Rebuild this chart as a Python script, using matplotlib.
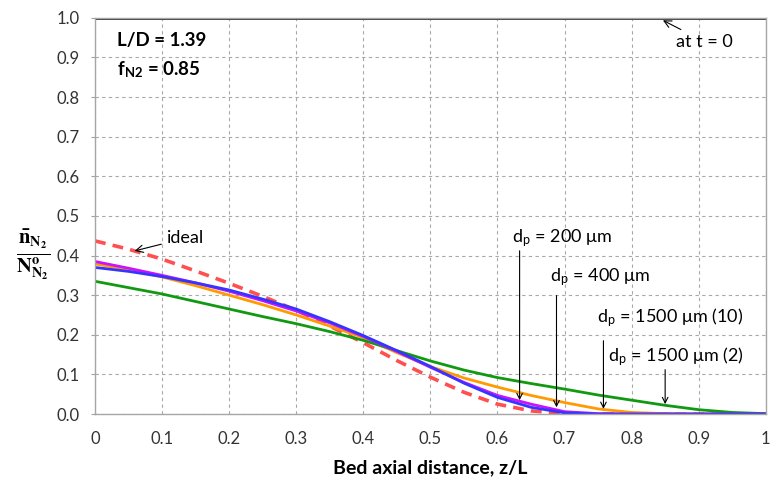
import matplotlib
matplotlib.use("Agg")
import matplotlib.pyplot as plt
import numpy as np

plt.rcParams['font.family'] = ['Lato', 'DejaVu Sans']
plt.rcParams['mathtext.fontset'] = 'stix'

# bed axial distance z/L
z = [0, 0.05, 0.1, 0.15, 0.2, 0.25, 0.3, 0.35, 0.4, 0.45, 0.5,
     0.55, 0.6, 0.65, 0.7, 0.75, 0.8, 0.85, 0.9, 0.95, 1.0]

ideal = [0.437, 0.416, 0.391, 0.361, 0.33, 0.297, 0.262, 0.222, 0.18, 0.135, 0.093,
         0.055, 0.025, 0.008, 0.001, 0, 0, 0, 0, 0, 0]
dp200 = [0.37, 0.36, 0.347, 0.331, 0.313, 0.29, 0.265, 0.233, 0.198, 0.16, 0.12,
         0.078, 0.042, 0.017, 0.003, 0, 0, 0, 0, 0, 0]
dp400 = [0.385, 0.368, 0.35, 0.331, 0.31, 0.286, 0.26, 0.23, 0.196, 0.158, 0.118,
         0.08, 0.047, 0.025, 0.006, 0.001, 0, 0, 0, 0, 0]
dp1500_10 = [0.379, 0.364, 0.346, 0.324, 0.3, 0.276, 0.25, 0.222, 0.193, 0.155, 0.12,
             0.091, 0.068, 0.047, 0.029, 0.013, 0.004, 0.001, 0, 0, 0]
dp1500_2 = [0.335, 0.319, 0.303, 0.284, 0.265, 0.246, 0.228, 0.208, 0.186, 0.16, 0.134,
            0.111, 0.092, 0.077, 0.063, 0.048, 0.035, 0.022, 0.011, 0.004, 0.001]

xticks = [0, 0.1, 0.2, 0.3, 0.4, 0.5, 0.6, 0.7, 0.8, 0.9, 1]
xticklabels = ["0", "0.1", "0.2", "0.3", "0.4", "0.5", "0.6", "0.7", "0.8", "0.9", "1"]
yticks = [0.0, 0.1, 0.2, 0.3, 0.4, 0.5, 0.6, 0.7, 0.8, 0.9, 1.0]

fig = plt.figure(figsize=(7.79, 4.82), dpi=100)
ax = fig.add_axes([0.122, 0.141, 0.861, 0.822])

ax.plot(z, ideal, color="#ff4f4f", lw=2.6, dashes=(3, 2))
ax.plot(z, dp1500_10, color="#ff9a00", lw=2)
ax.plot(z, dp1500_2, color="#119a11", lw=2)
ax.plot(z, dp400, color="#cc11ff", lw=2)
ax.plot(z, dp200, color="#3535ff", lw=2)
ax.plot([0, 1], [1, 1], color="#262626", lw=2)

ax.set_xlim(0, 1)
ax.set_ylim(0, 1)
ax.set_xticks(xticks)
ax.set_xticklabels(xticklabels)
ax.set_yticks(yticks)
ax.set_yticklabels([f"{v:.1f}" for v in yticks])
ax.tick_params(axis="x", length=0, pad=12, labelsize=12, colors="#333333")
ax.tick_params(axis="y", length=3, pad=8, labelsize=12, colors="#333333", color="#a0a0a0")
ax.grid(True, color="#a8a8a8", lw=0.8, dashes=(3, 3))
for s in ax.spines.values():
    s.set_color("#a6a6a6")
    s.set_linewidth(1)

ax.set_xlabel("Bed axial distance, z/L", fontsize=14, fontweight="bold", labelpad=9)
fig.text(0.042, 0.47, r"$\mathbf{\frac{\bar{n}_{N_2}}{N^{o}_{N_2}}}$", fontsize=21,
         ha="center", va="center")

ax.text(0.033, 0.944, "L/D = 1.39", fontsize=13.5, fontweight="bold", va="center")
ax.text(0.033, 0.869, r"f$_\mathregular{N2}$ = 0.85", fontsize=13.5, fontweight="bold", va="center")

arrow = dict(arrowstyle="->", color="black", lw=0.8)
ax.annotate("ideal", xy=(0.055, 0.41), xytext=(0.107, 0.444), fontsize=13,
            va="center", ha="left", arrowprops=arrow)
ax.annotate("at t = 0", xy=(0.843, 0.997), xytext=(0.866, 0.94), fontsize=13,
            va="center", ha="left", arrowprops=arrow)

# particle size labels with vertical arrows
labels = [("200", 0.621, 0.444, 0.633, 0.419, 0.028),
          ("400", 0.678, 0.346, 0.688, 0.306, 0.01),
          ("1500", 0.748, 0.242, 0.758, 0.192, 0.006),
          ("1500", 0.765, 0.144, 0.85, 0.119, 0.018)]
suffix = ["", "", " (10)", " (2)"]
for (size, tx, ty, axx, y0, y1), suf in zip(labels, suffix):
    ax.text(tx, ty, r"d$_\mathregular{p}$ = " + size + " μm" + suf, fontsize=13,
            va="center", ha="left")
    ax.annotate("", xy=(axx, y1), xytext=(axx, y0), arrowprops=arrow)

fig.savefig("out.png", dpi=100)
